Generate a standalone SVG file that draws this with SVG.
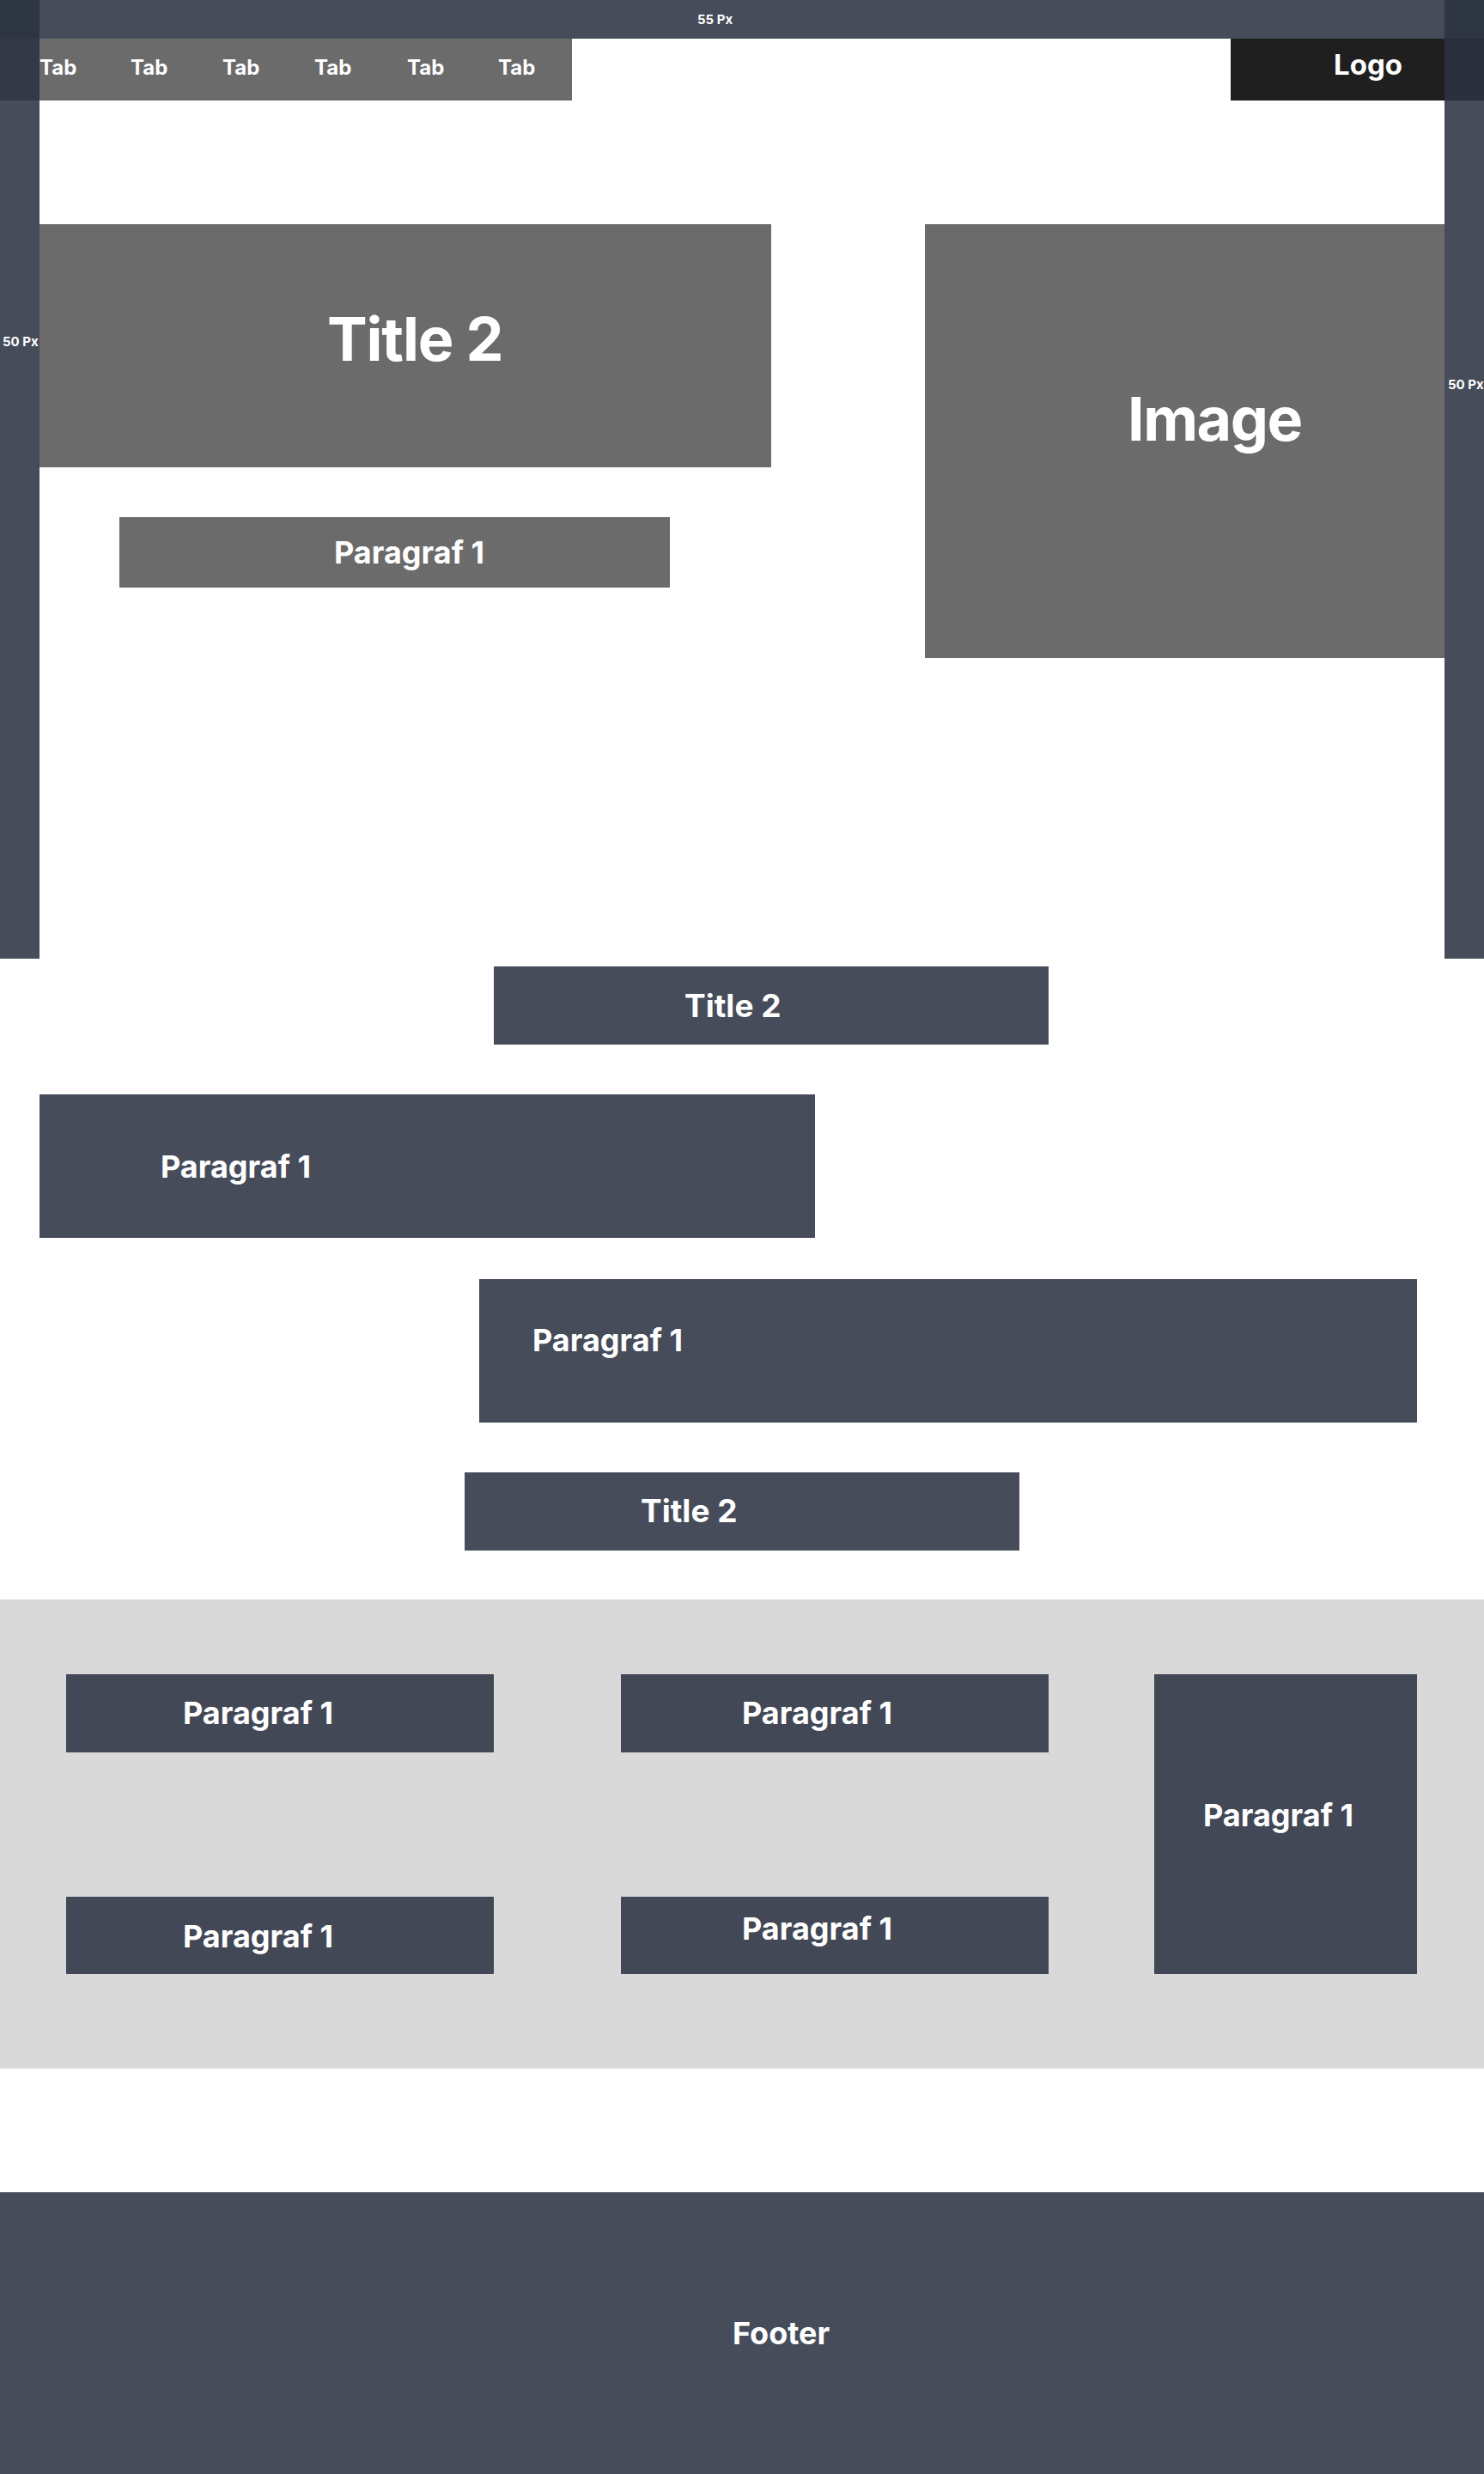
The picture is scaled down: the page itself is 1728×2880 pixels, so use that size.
<svg xmlns="http://www.w3.org/2000/svg" width="1728" height="2880" viewBox="0 0 1728 2880">
<style>
  .t { font-family: Inter, "Liberation Sans", Arial, sans-serif; font-weight: 700; fill: #ffffff; }
  .grey { fill: #6b6b6b; }
  .slate { fill: #464c5a; }
  .slate2 { fill: #424855; }
  .ov { fill: #2b3140; fill-opacity: 0.872; }
</style>
<rect x="0" y="0" width="1728" height="2880" fill="#ffffff"/>

<g id="hero-title">
  <rect class="grey" x="46" y="261" width="852" height="283"/>
  <text class="t" x="381" y="420" font-size="70" letter-spacing="-1.2">Title 2</text>
</g>
<g id="hero-paragraf">
  <rect class="grey" x="139" y="602" width="641" height="82"/>
  <text class="t" x="389" y="656" font-size="36">Paragraf 1</text>
</g>
<g id="hero-image">
  <rect class="grey" x="1077" y="261" width="605" height="505"/>
  <text class="t" x="1313" y="513" font-size="70" letter-spacing="-1.5">Image</text>
</g>

<g id="tabbar">
  <rect class="grey" x="0" y="45" width="666" height="72"/>
  <text class="t" x="46" y="87" font-size="24">Tab</text>
  <text class="t" x="152" y="87" font-size="24">Tab</text>
  <text class="t" x="259" y="87" font-size="24">Tab</text>
  <text class="t" x="366" y="87" font-size="24">Tab</text>
  <text class="t" x="474" y="87" font-size="24">Tab</text>
  <text class="t" x="580" y="87" font-size="24">Tab</text>
</g>
<g id="logo">
  <rect x="1433" y="45" width="295" height="72" fill="#1f1f1f"/>
  <text class="t" x="1553" y="87" font-size="33">Logo</text>
</g>

<g id="margin-guides">
  <rect class="ov" x="0" y="0" width="1728" height="45"/>
  <rect class="ov" x="0" y="0" width="46" height="1116"/>
  <rect class="ov" x="1682" y="0" width="46" height="1116"/>
  <text class="t" x="812" y="28" font-size="15">55 Px</text>
  <text class="t" x="3" y="403" font-size="15">50 Px</text>
  <text class="t" x="1686" y="453" font-size="15">50 Px</text>
</g>

<g id="banner-title-1">
  <rect class="slate" x="575" y="1125" width="646" height="91"/>
  <text class="t" x="797" y="1184" font-size="37">Title 2</text>
</g>
<g id="paragraf-box-1">
  <rect class="slate" x="46" y="1274" width="903" height="167"/>
  <text class="t" x="187" y="1371" font-size="36">Paragraf 1</text>
</g>
<g id="paragraf-box-2">
  <rect class="slate" x="558" y="1489" width="1092" height="167"/>
  <text class="t" x="620" y="1573" font-size="36">Paragraf 1</text>
</g>
<g id="banner-title-2">
  <rect class="slate" x="541" y="1714" width="646" height="91"/>
  <text class="t" x="746" y="1772" font-size="37">Title 2</text>
</g>

<g id="grey-section">
  <rect x="0" y="1862" width="1728" height="546" fill="#d9d9d9"/>
</g>
<g id="card-a">
  <rect class="slate2" x="77" y="1949" width="498" height="91"/>
  <text class="t" x="213" y="2007" font-size="36">Paragraf 1</text>
</g>
<g id="card-b">
  <rect class="slate2" x="723" y="1949" width="498" height="91"/>
  <text class="t" x="864" y="2007" font-size="36">Paragraf 1</text>
</g>
<g id="card-c">
  <rect class="slate2" x="1344" y="1949" width="306" height="349"/>
  <text class="t" x="1401" y="2126" font-size="36">Paragraf 1</text>
</g>
<g id="card-d">
  <rect class="slate2" x="77" y="2208" width="498" height="90"/>
  <text class="t" x="213" y="2267" font-size="36">Paragraf 1</text>
</g>
<g id="card-e">
  <rect class="slate2" x="723" y="2208" width="498" height="90"/>
  <text class="t" x="864" y="2258" font-size="36">Paragraf 1</text>
</g>

<g id="footer">
  <rect class="slate" x="0" y="2552" width="1728" height="328"/>
  <text class="t" x="853" y="2729" font-size="36">Footer</text>
</g>

<g id="connectors"></g>
</svg>
